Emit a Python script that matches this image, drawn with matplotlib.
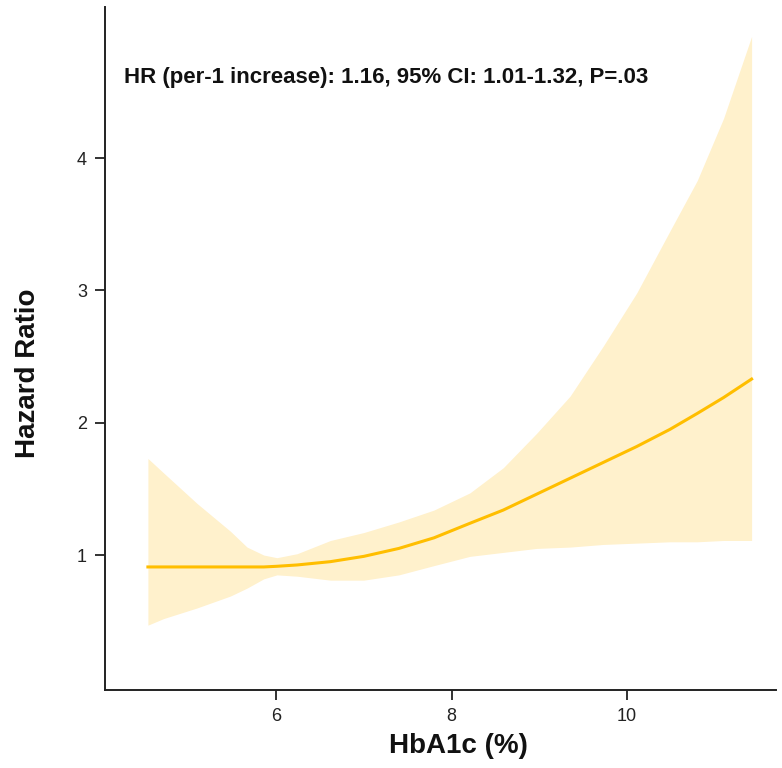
import numpy as np
import matplotlib.pyplot as plt

# values
hba1c = [4.54, 4.72, 5.10, 5.48, 5.67, 5.86, 6.01, 6.24, 6.62, 7.00, 7.40,
         7.80, 8.21, 8.59, 8.97, 9.35, 9.73, 10.11, 10.49, 10.80, 11.10, 11.42]
hr = [0.91, 0.91, 0.91, 0.91, 0.91, 0.91, 0.915, 0.925, 0.95, 0.99, 1.05,
      1.13, 1.24, 1.34, 1.46, 1.58, 1.70, 1.82, 1.95, 2.07, 2.19, 2.33]
hr_low = [0.47, 0.52, 0.60, 0.69, 0.75, 0.82, 0.85, 0.84, 0.81, 0.81, 0.85,
          0.92, 0.99, 1.02, 1.05, 1.06, 1.08, 1.09, 1.10, 1.10, 1.11, 1.11]
hr_up = [1.73, 1.62, 1.39, 1.18, 1.06, 1.00, 0.98, 1.01, 1.11, 1.17, 1.25,
         1.34, 1.47, 1.66, 1.92, 2.20, 2.58, 2.98, 3.45, 3.83, 4.30, 4.92]

x_ticks = [6, 8, 10]
y_ticks = [1, 2, 3, 4]
note = "HR (per-1 increase): 1.16, 95% CI: 1.01-1.32, P=.03"

plt.rcParams['font.family'] = ['Liberation Sans', 'DejaVu Sans']

W, H = 782, 768
my_dpi = 100
fig = plt.figure(figsize=(W / my_dpi, H / my_dpi), dpi=my_dpi)
ax = fig.add_axes([105 / W, 1 - 690 / H, (776 - 105) / W, (690 - 7) / H])

ax.fill_between(hba1c, hr_low, hr_up, color='#FFF1CC', lw=0)
ax.plot(hba1c, hr, color='#FFBE00', lw=2.2, solid_joinstyle='round')

ax.set_xlim(4.051, 11.698)
ax.set_ylim(-0.02, 5.142)
ax.set_xticks(x_ticks)
ax.set_yticks(y_ticks)
ax.tick_params(direction='out', length=7, width=1.3, labelsize=13,
               colors='#222222', pad=6)
for s in ['top', 'right']:
    ax.spines[s].set_visible(False)
for s in ['left', 'bottom']:
    ax.spines[s].set_linewidth(1.4)
    ax.spines[s].set_color('#222222')

fig.text(124 / W, 1 - 78 / H, note, fontsize=16, fontweight='bold',
         va='center', ha='left', color='#111111')
fig.text(458 / W, 1 - 746 / H, "HbA1c (%)", fontsize=20, fontweight='bold',
         va='center', ha='center', color='#111111')
fig.text(28 / W, 1 - 373 / H, "Hazard Ratio", fontsize=20, fontweight='bold',
         va='center', ha='center', rotation=90, color='#111111')

fig.savefig('out.png', dpi=my_dpi)
